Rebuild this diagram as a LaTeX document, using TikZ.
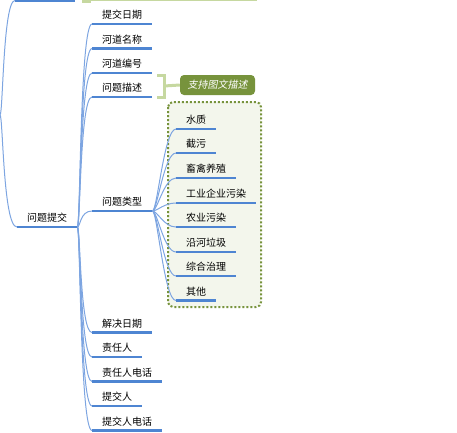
\documentclass[tikz,border=0pt]{standalone}
\usepackage{fontspec}
\setmainfont{Noto Sans CJK SC}
\newfontfamily\cjkslant[FakeSlant=0.2]{Noto Sans CJK SC}
\definecolor{ulblue}{RGB}{78,133,210}
\definecolor{brblue}{RGB}{125,165,225}
\definecolor{olive}{RGB}{119,147,60}
\definecolor{lgreen}{RGB}{198,216,160}
\definecolor{boxfill}{RGB}{243,246,236}
\begin{document}
\begin{tikzpicture}[x=1pt,y=-1pt,
  topic/.style={anchor=south west, inner xsep=10pt, inner ysep=4pt, text height=8pt, text depth=1pt, font=\fontsize{10}{12}\selectfont, text=black},
  uline/.style={draw=ulblue, line width=2.2pt},
  branch/.style={draw=brblue, line width=1pt},
  dotbox/.style={draw=olive, fill=boxfill, line width=2pt, dash pattern=on 2pt off 2pt, rounded corners=5pt},
  summary/.style={fill=olive, text=white, rounded corners=4pt, minimum width=75pt, minimum height=20pt, inner sep=0pt, font=\cjkslant\fontsize{10}{12}\selectfont},
  bracketline/.style={draw=lgreen, line width=3pt}
]
\clip (0,0) rectangle (457,432);
\useasboundingbox (0,0) rectangle (457,432);

% cut-off elements at the top
\fill[lgreen] (82,-6) rectangle (91,3);
\draw[lgreen, line width=1.2pt] (91,0.5) -- (257,0.5);
\coordinate (par) at (0,115);
\coordinate (topl) at (15,0.5);
\coordinate (topr) at (75,0.5);

% dotted boundary of sub-topics
\draw[dotbox] (168,102) rectangle (261,307);

% root topic
\node[topic] (root) at (17,227) {问题提交};

% children
\node[topic] (c1) at (92,24) {提交日期};
\node[topic] (c2) at (92,48.5) {河道名称};
\node[topic] (c3) at (92,73) {河道编号};
\node[topic] (c4) at (92,97) {问题描述};
\node[topic] (c5) at (92,211) {问题类型};
\node[topic] (c6) at (92,332.5) {解决日期};
\node[topic] (c7) at (92,357) {责任人};
\node[topic] (c8) at (92,381.5) {责任人电话};
\node[topic] (c9) at (92,406) {提交人};
\node[topic] (c10) at (92,430.5) {提交人电话};

% sub-children
\node[topic] (s1) at (176,129) {水质};
\node[topic] (s2) at (176,153) {截污};
\node[topic] (s3) at (176,178) {畜禽养殖};
\node[topic] (s4) at (176,203) {工业企业污染};
\node[topic] (s5) at (176,227) {农业污染};
\node[topic] (s6) at (176,252) {沿河垃圾};
\node[topic] (s7) at (176,276) {综合治理};
\node[topic] (s8) at (176,300.5) {其他};

% summary label
\node[summary] (lab) at (217.5,85) {支持图文描述};
\coordinate (bt) at (157,75);
\coordinate (bb) at (157,97);
\coordinate (bm) at (164,86);
\draw[bracketline] (bt) -- (164,75) -- (164,97) -- (bb);
\draw[bracketline] (bm) -- (lab.west);

% branches
\draw[branch] (par) .. controls (3,115) and (3,0.5) .. (topl);
\draw[branch] (par) .. controls (3,115) and (3,227) .. (root.south west);
\foreach \n in {c1,c2,c3,c4,c5,c6,c7,c8,c9,c10}
  \draw[branch] (root.south east) .. controls +(3,0) and +(-12,0) .. (\n.south west);
\foreach \n in {s1,s2,s3,s4,s5,s6,s7,s8}
  \draw[branch] (c5.south east) .. controls +(5,0) and +(-12,0) .. (\n.south west);

% underlines
\draw[uline] (topl) -- (topr);
\foreach \n in {root,c1,c2,c3,c4,c5,c6,c7,c8,c9,c10,s1,s2,s3,s4,s5,s6,s7,s8}
  \draw[uline] (\n.south west) -- (\n.south east);
\end{tikzpicture}
\end{document}
